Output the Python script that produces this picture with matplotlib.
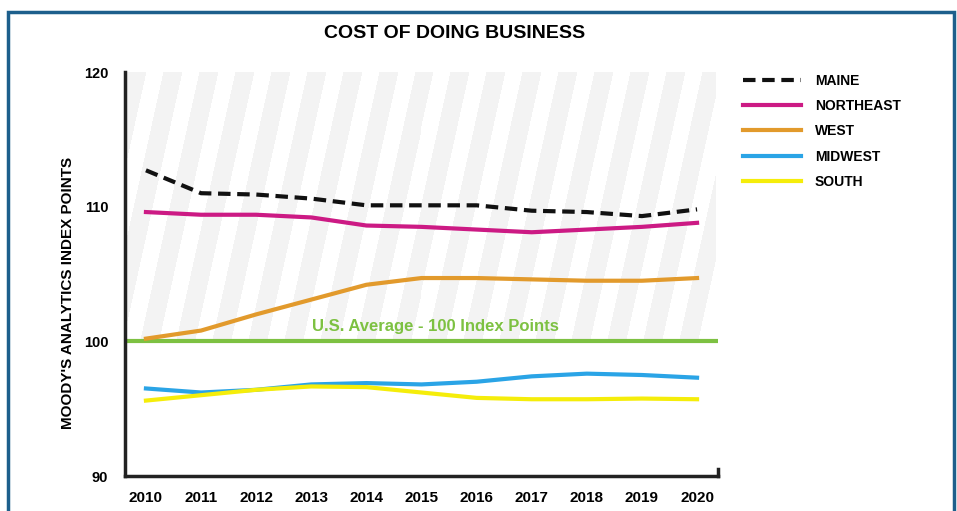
import numpy as np
import matplotlib
matplotlib.use("Agg")
import matplotlib.pyplot as plt
from matplotlib.patches import Rectangle

plt.rcParams['font.family'] = ['Liberation Sans', 'DejaVu Sans']
plt.rcParams['font.weight'] = 'bold'

years = [2010, 2011, 2012, 2013, 2014, 2015, 2016, 2017, 2018, 2019, 2020]
maine = [112.7, 111.0, 110.9, 110.6, 110.1, 110.1, 110.1, 109.7, 109.6, 109.3, 109.8]
northeast = [109.6, 109.4, 109.4, 109.2, 108.6, 108.5, 108.3, 108.1, 108.3, 108.5, 108.8]
west = [100.2, 100.8, 102.0, 103.1, 104.2, 104.7, 104.7, 104.6, 104.5, 104.5, 104.7]
midwest = [96.5, 96.2, 96.4, 96.8, 96.9, 96.8, 97.0, 97.4, 97.6, 97.5, 97.3]
south = [95.6, 96.0, 96.4, 96.65, 96.6, 96.2, 95.8, 95.7, 95.7, 95.75, 95.7]
us_average = 100
y_ticks = [90, 100, 110, 120]

fig = plt.figure(figsize=(9.57, 5.11), dpi=100)
W, H = 957, 511

# blue frame around the graphic
fig.patches.append(Rectangle((8 / W, -0.1), 946 / W, 1.1 - 12 / H,
                             transform=fig.transFigure, fill=False,
                             edgecolor='#1d5f8c', linewidth=2.5))

ax = fig.add_axes([125 / W, 1 - 476 / H, 593 / W, (476 - 72) / H])
x0, x1 = 2009.62, 2020.38
ax.set_xlim(x0, x1)
ax.set_ylim(90, 120)

# diagonal stripes above the U.S. average
pw, ph = 590, 270
px, py = np.meshgrid(np.arange(pw), np.arange(ph))
stripe = ((px + py * 0.22) % 36) < 19
img = np.ones((ph, pw, 3))
img[stripe] = 0.955
ax.imshow(img, extent=[x0 + 0.03, x1 - 0.06, us_average, 120], aspect='auto',
          interpolation='nearest', zorder=0, origin='upper')

ax.axhline(us_average, color='#7dc142', linewidth=3, zorder=2)
ax.text(2015.25, us_average + 0.55, 'U.S. Average - 100 Index Points',
        color='#7dc142', fontsize=12, ha='center', va='bottom', zorder=3)

ax.plot(years, maine, color='#111111', linewidth=3, linestyle=(0, (3, 1.6)),
        label='MAINE', zorder=5)
ax.plot(years, northeast, color='#cc1a84', linewidth=3, label='NORTHEAST', zorder=4)
ax.plot(years, west, color='#e29a2c', linewidth=3, label='WEST', zorder=4)
ax.plot(years, midwest, color='#2aa4e6', linewidth=3, label='MIDWEST', zorder=4)
ax.plot(years, south, color='#f5ed0a', linewidth=3, label='SOUTH', zorder=4)

ax.set_xticks(years)
ax.set_xticklabels([str(y) for y in years], fontsize=11)
ax.set_yticks(y_ticks)
ax.set_yticklabels([str(v) for v in y_ticks], fontsize=10.5)
ax.tick_params(axis='both', length=0, pad=11)
ax.tick_params(axis='y', pad=12)

for side in ['top', 'right']:
    ax.spines[side].set_visible(False)
for side in ['left', 'bottom']:
    ax.spines[side].set_linewidth(2.5)
    ax.spines[side].set_color('#222222')
# little end tick at the right of the x axis
ax.plot([x1, x1], [90, 90.5], color='#222222', linewidth=2.5, clip_on=False)

fig.text(68 / W, 1 - 293 / H, "MOODY'S ANALYTICS INDEX POINTS", fontsize=11,
         rotation=90, ha='center', va='center')

fig.text(455 / W, 1 - 33 / H, 'COST OF DOING BUSINESS', fontsize=14,
         ha='center', va='center')

fig.legend(loc='upper left', bbox_to_anchor=(730 / W, 1 - 61 / H),
           frameon=False, fontsize=10, handlelength=4.2, handletextpad=1.0,
           labelspacing=0.82)

fig.savefig('out.png', dpi=100)
